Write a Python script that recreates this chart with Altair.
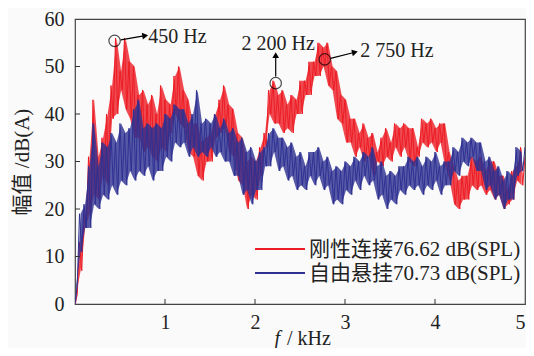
import altair as alt
import pandas as pd

# frequency grid step (kHz): high samples at i*STEP, low samples at i*STEP + STEP/2
STEP = 0.05

series_names = ["刚性连接76.62 dB(SPL)", "自由悬挂70.73 dB(SPL)"]
series_colors = ["#ed1c24", "#2e3192"]

# 刚性连接 (rigid) - upper / lower envelope of noisy spectrum
red_hi = [0, 13, 19, 31, 43, 31, 35, 40, 46, 56, 49, 56, 51, 50, 44, 45, 42, 44, 40, 46,
          43, 42, 48, 50, 45, 43, 38, 38, 34, 35, 36, 40, 43, 46, 42, 41, 36, 35, 30, 31,
          30, 33, 36, 45, 47, 44, 45, 42, 44, 43, 47, 47, 51, 51, 55, 54, 55, 50, 49, 44,
          43, 39, 39, 36, 38, 35, 36, 32, 35, 37, 34, 38, 37, 38, 37, 37, 33, 39, 38, 39,
          37, 38, 38, 32, 29, 26, 27, 27, 31, 30, 31, 28, 30, 30, 27, 27, 24, 28, 29, 33, 31]
red_lo = [2, 7, 16, 19, 23, 22, 27, 25, 39, 40, 45, 41, 39, 35, 35, 32, 33, 31, 30, 33,
          32, 36, 40, 38, 37, 32, 31, 27, 26, 30, 30, 35, 36, 37, 32, 31, 26, 25, 20, 23,
          22, 27, 33, 40, 38, 38, 36, 37, 36, 40, 40, 44, 44, 48, 48, 50, 46, 45, 39, 38,
          34, 34, 31, 33, 30, 31, 27, 30, 29, 31, 30, 33, 31, 33, 30, 29, 31, 34, 33, 34,
          32, 34, 29, 26, 21, 20, 22, 22, 25, 24, 25, 23, 24, 22, 23, 20, 21, 22, 26, 25]

# 自由悬挂 (free) - upper / lower envelope
blue_hi = [0, 19, 21, 29, 38, 29, 34, 33, 36, 34, 38, 36, 37, 41, 43, 37, 38, 37, 38, 37,
           40, 39, 42, 41, 41, 38, 40, 45, 38, 39, 38, 40, 37, 39, 36, 37, 34, 35, 32, 33,
           30, 32, 33, 36, 37, 35, 35, 33, 34, 31, 32, 29, 32, 32, 33, 30, 31, 28, 29, 28,
           30, 29, 31, 30, 32, 31, 33, 29, 30, 27, 28, 27, 29, 29, 31, 30, 31, 29, 31, 30,
           32, 29, 30, 30, 33, 32, 35, 34, 35, 34, 34, 30, 31, 28, 29, 26, 28, 27, 33, 32, 33]
blue_lo = [4, 11, 16, 16, 21, 20, 23, 22, 25, 23, 26, 25, 28, 26, 28, 27, 29, 26, 28, 28,
           31, 30, 34, 33, 34, 31, 33, 31, 32, 31, 33, 31, 32, 30, 30, 27, 27, 23, 24, 21,
           24, 24, 29, 29, 32, 28, 29, 26, 27, 24, 25, 24, 27, 25, 27, 24, 25, 21, 22, 21,
           24, 23, 26, 24, 27, 25, 26, 22, 23, 20, 22, 21, 24, 23, 25, 24, 25, 23, 25, 24,
           26, 23, 25, 25, 28, 27, 30, 29, 31, 28, 28, 24, 25, 22, 23, 20, 22, 22, 27, 28]

x_tick_values = [1, 2, 3, 4, 5]
x_inner_ticks = [1, 2, 3, 4]
y_tick_values = [0, 10, 20, 30, 40, 50, 60]
y_inner_ticks = [10, 20, 30, 40, 50]

# peak annotations
peak_f = [0.44, 2.23, 2.775]
peak_amp = [55.4, 46.5, 51.5]
peak_labels = ["450 Hz", "2 200 Hz", "2 750 Hz"]
arrow_f1 = [0.51, 2.23, 2.84]
arrow_a1 = [55.6, 47.9, 51.7]
arrow_f2 = [0.78, 2.23, 3.11]
arrow_a2 = [56.5, 52.4, 53.0]
arrow_angle = [81, 0, 77]
label_f = [0.815, 2.258, 3.17]
label_a = [56.3, 54.7, 53.3]
label_align = ["left", "center", "left"]

W, H = 450, 285
SERIF = "Liberation Serif, Noto Sans CJK SC"
FS = 20

rows, band_rows = [], []
for name, hi, lo in [(series_names[0], red_hi, red_lo), (series_names[1], blue_hi, blue_lo)]:
    k = 0
    for i in range(len(hi)):
        rows.append({"series": name, "f": round(i * STEP, 4), "amp": hi[i], "k": k})
        k += 1
        if i < len(lo):
            rows.append({"series": name, "f": round(i * STEP + STEP / 2, 4), "amp": lo[i], "k": k})
            k += 1
            band_rows.append({"series": name, "f": round(i * STEP + STEP / 4, 4),
                              "hi": hi[i], "lo": lo[i]})
df = pd.DataFrame(rows)
band = pd.DataFrame(band_rows)

xscale = alt.Scale(domain=[0, 5], nice=False, zero=False)
yscale = alt.Scale(domain=[0, 60], nice=False)

xaxis = alt.Axis(values=x_tick_values, title=None, ticks=False, tickSize=0,
                 labelPadding=8, domain=False, grid=False)
yaxis = alt.Axis(values=y_tick_values, title="幅值  /dB(A)", ticks=False, tickSize=0,
                 labelPadding=11, domain=False, grid=False, titlePadding=12)


def series_layers(idx):
    name = series_names[idx]
    col = series_colors[idx]
    area = alt.Chart(band).transform_filter(alt.datum.series == name).mark_area(
        color=col, opacity=0.8, clip=True, interpolate="linear").encode(
        x=alt.X("f:Q", scale=xscale, axis=xaxis),
        y=alt.Y("lo:Q", scale=yscale, axis=yaxis),
        y2="hi:Q")
    line = alt.Chart(df).transform_filter(alt.datum.series == name).mark_line(
        color=col, strokeWidth=1, clip=True).encode(
        x=alt.X("f:Q", scale=xscale, axis=xaxis),
        y=alt.Y("amp:Q", scale=yscale, axis=yaxis),
        order="k:Q")
    return [area, line]


xt = alt.Chart(pd.DataFrame({"t": x_inner_ticks})).mark_rule(color="#333", strokeWidth=1).encode(
    x=alt.X("t:Q", scale=xscale, axis=xaxis), y=alt.value(H), y2=alt.value(H - 5))
yt = alt.Chart(pd.DataFrame({"t": y_inner_ticks})).mark_rule(color="#333", strokeWidth=1).encode(
    y=alt.Y("t:Q", scale=yscale, axis=yaxis), x=alt.value(0), x2=alt.value(5))

ann = pd.DataFrame({"pf": peak_f, "pa": peak_amp, "lab": peak_labels,
                    "f1": arrow_f1, "a1": arrow_a1, "f2": arrow_f2, "a2": arrow_a2,
                    "ang": arrow_angle, "lf": label_f, "la": label_a, "al": label_align})

circles = alt.Chart(ann).mark_point(shape="circle", filled=False, size=130, color="black",
                                    strokeWidth=1.2).encode(
    x=alt.X("pf:Q", scale=xscale, axis=xaxis), y=alt.Y("pa:Q", scale=yscale, axis=yaxis))
arrows = alt.Chart(ann).mark_rule(color="black", strokeWidth=1.2).encode(
    x=alt.X("f1:Q", scale=xscale, axis=xaxis), y=alt.Y("a1:Q", scale=yscale, axis=yaxis),
    x2="f2:Q", y2="a2:Q")
heads = alt.Chart(ann).mark_point(shape="triangle-up", filled=True, size=45, color="black",
                                  opacity=1).encode(
    x=alt.X("f2:Q", scale=xscale, axis=xaxis), y=alt.Y("a2:Q", scale=yscale, axis=yaxis),
    angle=alt.Angle("ang:Q", scale=None))
labels = []
for al in ["left", "center"]:
    labels.append(alt.Chart(ann).transform_filter(alt.datum.al == al).mark_text(
        font=SERIF, fontSize=FS, color="#222", align=al, baseline="middle").encode(
        x=alt.X("lf:Q", scale=xscale, axis=xaxis), y=alt.Y("la:Q", scale=yscale, axis=yaxis),
        text="lab:N"))

legend_layers = []
for i, name in enumerate(series_names):
    ldf = pd.DataFrame({"label": [name]})
    legend_layers.append(alt.Chart(ldf).mark_rule(strokeWidth=2, color=series_colors[i]).encode(
        x=alt.value(180), x2=alt.value(230), y=alt.value(230 + 24 * i)))
    legend_layers.append(alt.Chart(ldf).mark_text(
        font=SERIF, fontSize=21, color="#222", align="left", baseline="middle").encode(
        x=alt.value(234), y=alt.value(231 + 24 * i), text="label:N"))

xtitle_f = alt.Chart(pd.DataFrame({"s": ["f"]})).mark_text(
    font=SERIF, fontSize=20, fontStyle="italic", color="#222", align="right", baseline="middle").encode(
    x=alt.value(205), y=alt.value(320), text="s:N")
xtitle_rest = alt.Chart(pd.DataFrame({"s": ["/ kHz"]})).mark_text(
    font=SERIF, fontSize=20, color="#222", align="left", baseline="middle").encode(
    x=alt.value(212), y=alt.value(320), text="s:N")

chart = alt.layer(*series_layers(0), *series_layers(1), xt, yt, circles, arrows, heads,
                  *labels, *legend_layers, xtitle_f, xtitle_rest).properties(
    width=W, height=H,
    autosize=alt.AutoSizeParams(type="none"),
    padding={"left": 67, "top": 11, "right": 1, "bottom": 44},
    background="#fafafa",
).configure_view(stroke="#444", strokeWidth=1.2).configure_axis(
    labelFont=SERIF, labelFontSize=FS, labelColor="#222",
    titleFont=SERIF, titleFontSize=21, titleColor="#222", titleFontWeight="normal",
)

chart.save("out.html", embed_options={"renderer": "svg", "actions": False})
